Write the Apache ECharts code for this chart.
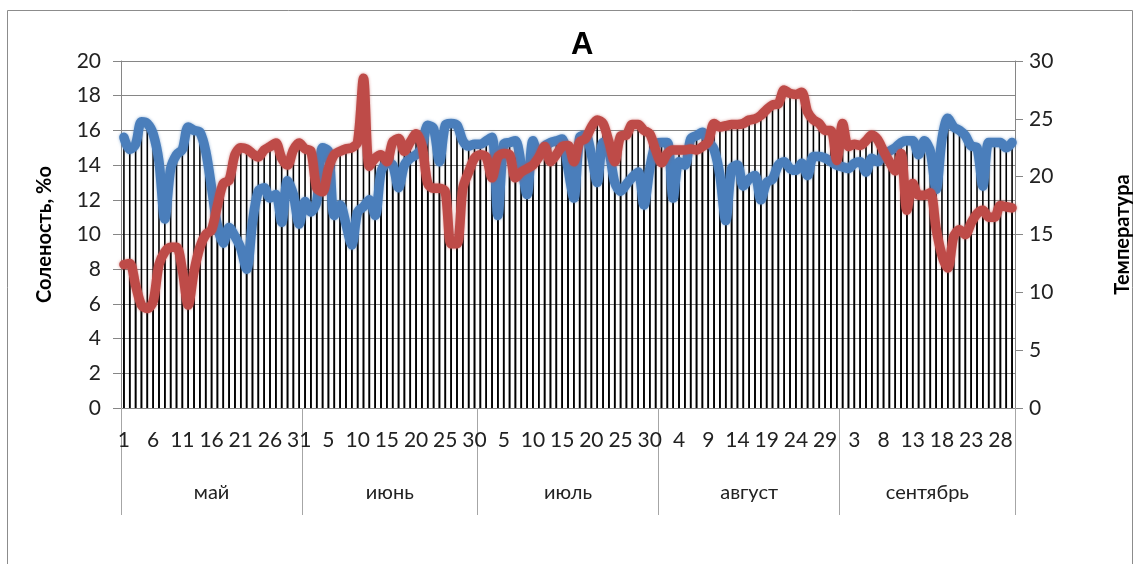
<!DOCTYPE html>
<html>
<head>
<meta charset="utf-8">
<script src="https://cdn.jsdelivr.net/npm/echarts@6/dist/echarts.min.js"></script>
<style>
html,body{margin:0;padding:0;background:#fff;}
#chart{width:1141px;height:564px;}
</style>
</head>
<body>
<div id="chart"></div>
<script>
const months = ['май','июнь','июль','август','сентябрь'];
const monthLengths = [31,30,31,31,30];
const salinityTicks = [0,2,4,6,8,10,12,14,16,18,20];
const temperatureTicks = [0,5,10,15,20,25,30];

const salinity = [
15.6,14.9,15.2,16.5,16.4,15.8,14.2,10.9,13.8,14.6,
14.9,16.2,16.0,15.9,14.8,12.7,10.5,9.5,10.4,9.9,
9.2,8.0,10.7,12.5,12.7,12.1,12.3,10.7,13.1,12.3,
10.6,11.9,11.3,11.9,15.0,14.8,11.1,11.7,10.6,9.4,
11.3,11.6,12.0,11.1,13.6,14.1,14.0,12.7,14.0,14.4,
14.6,15.0,16.3,16.1,14.2,16.3,16.4,16.3,15.4,15.1,
15.2,15.2,15.4,15.6,11.1,15.2,15.3,15.4,14.0,12.3,
15.4,14.6,15.1,15.3,15.4,15.5,13.8,12.1,15.6,15.7,
14.6,13.0,15.3,14.8,13.0,12.5,12.9,13.3,13.6,11.7,
13.8,15.2,15.3,15.3,12.1,14.2,14.0,15.5,15.7,15.9,
15.4,14.9,13.4,10.8,13.8,14.0,12.8,13.2,13.4,12.0,
13.0,13.2,14.0,14.2,13.8,13.7,14.1,13.4,14.5,14.5,
14.4,14.2,14.0,13.9,13.8,14.1,14.2,13.6,14.4,14.2,
14.6,14.8,15.0,15.3,15.4,15.4,14.6,15.4,14.8,12.6,
15.5,16.7,16.2,16.0,15.7,15.1,15.0,12.8,15.3,15.3,
15.3,15.0,15.3
];

const temperature = [
12.4,12.5,10.6,8.9,8.6,9.2,12.4,13.5,13.9,13.9,
11.9,8.9,11.8,13.9,15.0,15.4,17.5,19.4,19.7,21.9,
22.5,22.4,22.0,21.7,22.3,22.6,22.9,21.6,21.0,22.3,
22.9,22.4,22.2,19.0,18.7,20.7,21.9,22.2,22.4,22.5,
23.0,28.5,20.9,21.6,21.9,21.3,23.0,23.3,22.2,23.0,
23.7,22.7,19.4,19.0,19.0,18.7,14.2,14.2,19.0,20.4,
21.6,21.9,21.7,19.9,21.7,22.0,21.9,19.9,20.4,20.7,
21.0,21.7,22.6,21.3,21.9,22.6,22.7,21.3,23.0,23.3,
24.3,24.9,24.6,23.0,21.3,23.5,23.6,24.5,24.5,24.0,
23.7,22.3,21.2,22.0,22.3,22.3,22.3,22.4,22.3,22.6,
23.0,24.6,24.3,24.4,24.5,24.5,24.6,24.9,25.0,25.3,
25.8,26.2,26.3,27.5,27.2,27.1,27.3,25.6,24.9,24.6,
24.0,24.0,21.4,24.6,22.6,22.8,22.7,23.1,23.6,23.2,
22.2,21.3,20.5,22.0,17.1,19.4,18.4,18.4,18.6,15.5,
13.2,12.1,14.8,15.4,15.0,16.0,16.8,17.1,16.5,16.5,
17.5,17.4,17.3
];

// derived category labels and month boundaries
const days = [];
const bounds = [0];
monthLengths.forEach((len) => {
  for (let d = 1; d <= len; d++) days.push(String(d));
  bounds.push(bounds[bounds.length - 1] + len);
});
const centers = months.map((m, k) => (bounds[k] + bounds[k + 1]) / 2);

const FONT = 'Lato, "Open Sans", sans-serif';
const chart = echarts.init(document.getElementById('chart'));
chart.setOption({
  animation: false,
  backgroundColor: '#fff',
  graphic: [{
    type: 'rect', silent: true,
    shape: {x: 7.5, y: 10.5, width: 1125, height: 600},
    style: {fill: 'none', stroke: '#8c8c8c', lineWidth: 1}
  }],
  title: {
    text: 'А', left: 566, top: 25,
    textStyle: {fontFamily: 'Liberation Sans, Arial, sans-serif', fontSize: 31, fontWeight: 'bold', color: '#000'}
  },
  grid: {left: 121, right: 126, top: 61, bottom: 156, containLabel: false},
  xAxis: [{
    type: 'category', data: days, boundaryGap: true,
    axisLine: {show: true, lineStyle: {color: '#868686', width: 1}},
    axisTick: {show: false},
    axisLabel: {interval: 4, fontFamily: FONT, fontSize: 21, color: '#222', margin: 22},
    splitLine: {show: false}
  }, {
    type: 'value', min: 0, max: bounds[bounds.length - 1], position: 'bottom',
    axisLine: {show: false},
    axisTick: {show: true, customValues: bounds, length: 107, lineStyle: {color: '#a6a6a6', width: 1}},
    axisLabel: {
      show: true, customValues: centers, margin: 75,
      fontFamily: FONT, fontSize: 20, color: '#222',
      formatter: (v) => { const k = centers.indexOf(v); return k >= 0 ? months[k] : ''; }
    },
    splitLine: {show: false}
  }],
  yAxis: [{
    type: 'value', min: 0, max: 20, interval: 2,
    name: 'Соленость, %о', nameLocation: 'middle', nameGap: 66, nameRotate: 90,
    nameTextStyle: {fontFamily: FONT, fontSize: 20, fontWeight: 'bold', color: '#000'},
    axisLine: {show: true, lineStyle: {color: '#868686'}},
    axisTick: {show: true, length: 8, lineStyle: {color: '#868686'}},
    axisLabel: {fontFamily: FONT, fontSize: 21, color: '#222', margin: 20,
      formatter: (v) => salinityTicks.includes(v) ? String(v) : ''},
    splitLine: {show: true, lineStyle: {color: '#868686', width: 1}}
  }, {
    type: 'value', min: 0, max: 30, interval: 5, position: 'right',
    name: 'Температура', nameLocation: 'middle', nameGap: 98, nameRotate: 90,
    nameTextStyle: {fontFamily: FONT, fontSize: 20, fontWeight: 'bold', color: '#000'},
    axisLine: {show: true, lineStyle: {color: '#868686'}},
    axisTick: {show: true, length: 8, lineStyle: {color: '#868686'}},
    axisLabel: {fontFamily: FONT, fontSize: 21, color: '#222', margin: 14,
      formatter: (v) => temperatureTicks.includes(v) ? String(v) : ''},
    splitLine: {show: false}
  }],
  series: [{
    type: 'bar', xAxisIndex: 0, yAxisIndex: 0, data: salinity, silent: true,
    barWidth: 1.6, itemStyle: {color: '#000'}, z: 1
  }, {
    type: 'bar', xAxisIndex: 0, yAxisIndex: 1, data: temperature, silent: true,
    barWidth: 1.6, barGap: '-100%', itemStyle: {color: '#000'}, z: 1
  }, {
    type: 'line', name: 'Соленость', xAxisIndex: 0, yAxisIndex: 0, data: salinity,
    showSymbol: false, smooth: 0.3, silent: true, z: 3,
    lineStyle: {color: '#4A7EBB', width: 9.5, shadowColor: 'rgba(74,126,187,0.6)', shadowBlur: 3, cap: 'round', join: 'round'}
  }, {
    type: 'line', name: 'Температура', xAxisIndex: 0, yAxisIndex: 1, data: temperature,
    showSymbol: false, smooth: 0.3, silent: true, z: 4,
    lineStyle: {color: '#BE4B48', width: 9.5, shadowColor: 'rgba(190,75,72,0.6)', shadowBlur: 3, cap: 'round', join: 'round'}
  }]
});
</script>
</body>
</html>
